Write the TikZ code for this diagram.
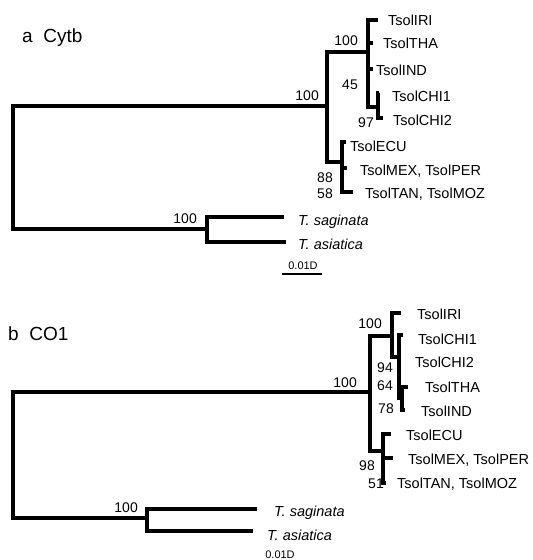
\documentclass[tikz,border=0pt]{standalone}
\usepackage{fontspec}
\setmainfont{Liberation Sans}

\begin{document}
\begin{tikzpicture}[
    x=1pt, y=-1pt,
    branch/.style={line width=3.3pt, line join=miter},
    bar/.style={line width=1.5pt},
    taxon/.style={anchor=west, inner sep=0pt, text height=10pt, text depth=0pt,
                  font=\fontsize{14.5pt}{17pt}\selectfont},
    boot/.style={anchor=east, inner sep=0pt, text height=10pt, text depth=0pt,
                 font=\fontsize{14pt}{17pt}\selectfont},
    panel/.style={anchor=base west, inner sep=0pt,
                  font=\fontsize{19pt}{22pt}\selectfont},
    barlab/.style={inner sep=0pt, font=\fontsize{11pt}{13pt}\selectfont}
  ]
  \fill[white] (0,0) rectangle (533,560);
  \useasboundingbox (0,0) rectangle (533,560);

  % ---------- panel a: Cytb ----------
  \node[panel] (aTitle) at (22,42) {a\ \ Cytb};

  % inner nodes
  \coordinate (aRoot) at (13,167);
  \coordinate (aSol) at (327,106);
  \coordinate (aAsia) at (368,52);
  \coordinate (aChi) at (378,107);
  \coordinate (aAmer) at (342,162);
  \coordinate (aOut) at (207,229);

  % tips
  \coordinate (aIRIt) at (378,20);
  \coordinate (aTHAt) at (373,43);
  \coordinate (aINDt) at (373,69);
  \coordinate (aCHI1t) at (379,93);
  \coordinate (aCHI2t) at (383,118);
  \coordinate (aECUt) at (346,142);
  \coordinate (aMEXt) at (347,168);
  \coordinate (aTANt) at (353,192);
  \coordinate (aSAGt) at (284,217);
  \coordinate (aASIt) at (286,242);

  % branches
  \draw[branch] (aSol) -| (aRoot) |- (aOut);
  \draw[branch] (aAsia) -| (aSol) |- (aAmer);
  \draw[branch] (aIRIt) -| (aAsia) |- (aChi);
  \draw[branch] (aTHAt) -| (aAsia);
  \draw[branch] (aINDt) -| (aAsia);
  \draw[branch] (aCHI1t) -| (aChi) |- (aCHI2t);
  \draw[branch] (aECUt) -| (aAmer) |- (aTANt);
  \draw[branch] (aMEXt) -| (aAmer);
  \draw[branch] (aSAGt) -| (aOut) |- (aASIt);

  % taxa
  \node[taxon] (aIRI) at (388,20) {TsolIRI};
  \node[taxon] (aTHA) at (383,43) {TsolTHA};
  \node[taxon] (aIND) at (376,70) {TsolIND};
  \node[taxon] (aCHI1) at (392,96) {TsolCHI1};
  \node[taxon] (aCHI2) at (393,120) {TsolCHI2};
  \node[taxon] (aECU) at (350,146) {TsolECU};
  \node[taxon] (aMEX) at (360,170) {TsolMEX, TsolPER};
  \node[taxon] (aTAN) at (365,193) {TsolTAN, TsolMOZ};
  \node[taxon] (aSAG) at (298,220) {\itshape T. saginata};
  \node[taxon] (aASI) at (298,244) {\itshape T. asiatica};

  % bootstrap values
  \node[boot] (aB1) at (319,95) {100};
  \node[boot] (aB2) at (358,40) {100};
  \node[boot] (aB3) at (358,84) {45};
  \node[boot] (aB4) at (374,122) {97};
  \node[boot] (aB5) at (333,177) {88};
  \node[boot] (aB6) at (333,193) {58};
  \node[boot] (aB7) at (197,218) {100};

  % scale bar
  \coordinate (aBarL) at (282,274);
  \coordinate (aBarR) at (322,274);
  \draw[bar] (aBarL) -- (aBarR);
  \node[barlab] (aBarT) at (303,266) {0.01D};

  % ---------- panel b: CO1 ----------
  \node[panel] (bTitle) at (8,340) {b\ \ CO1};

  % inner nodes
  \coordinate (bRoot) at (13,455);
  \coordinate (bSol) at (370,392);
  \coordinate (bAsia) at (392,336);
  \coordinate (bChi) at (399,357);
  \coordinate (bThaInd) at (402,398);
  \coordinate (bAmer) at (383,451);
  \coordinate (bOut) at (147,518);

  % tips
  \coordinate (bIRIt) at (401,313);
  \coordinate (bCHI1t) at (403,335);
  \coordinate (bTHAt) at (408,387);
  \coordinate (bINDt) at (405,410);
  \coordinate (bECUt) at (391,434);
  \coordinate (bMEXt) at (393,458);
  \coordinate (bTANt) at (386,483);
  \coordinate (bSAGt) at (257,509);
  \coordinate (bASIt) at (253,531);

  % branches
  \draw[branch] (bSol) -| (bRoot) |- (bOut);
  \draw[branch] (bAsia) -| (bSol) |- (bAmer);
  \draw[branch] (bIRIt) -| (bAsia) |- (bChi);
  \draw[branch] (bCHI1t) -| (bChi) |- (bThaInd);
  \draw[branch] (bTHAt) -| (bThaInd) |- (bINDt);
  \draw[branch] (bECUt) -| (bAmer) |- (bTANt);
  \draw[branch] (bMEXt) -| (bAmer);
  \draw[branch] (bSAGt) -| (bOut) |- (bASIt);

  % taxa
  \node[taxon] (bIRI) at (417,314) {TsolIRI};
  \node[taxon] (bCHI1) at (418,339) {TsolCHI1};
  \node[taxon] (bCHI2) at (415,362) {TsolCHI2};
  \node[taxon] (bTHA) at (425,387) {TsolTHA};
  \node[taxon] (bIND) at (421,411) {TsolIND};
  \node[taxon] (bECU) at (406,435) {TsolECU};
  \node[taxon] (bMEX) at (408,459) {TsolMEX, TsolPER};
  \node[taxon] (bTAN) at (397,483) {TsolTAN, TsolMOZ};
  \node[taxon] (bSAG) at (274,511) {\itshape T. saginata};
  \node[taxon] (bASI) at (267,535) {\itshape T. asiatica};

  % bootstrap values
  \node[boot] (bB1) at (357,382) {100};
  \node[boot] (bB2) at (382,323) {100};
  \node[boot] (bB3) at (393,367) {94};
  \node[boot] (bB4) at (393,385) {64};
  \node[boot] (bB5) at (394,408) {78};
  \node[boot] (bB6) at (375,465) {98};
  \node[boot] (bB7) at (384,483) {51};
  \node[boot] (bB8) at (138,507) {100};

  % scale label
  \node[barlab] (bBarT) at (280,555) {0.01D};
\end{tikzpicture}
\end{document}
